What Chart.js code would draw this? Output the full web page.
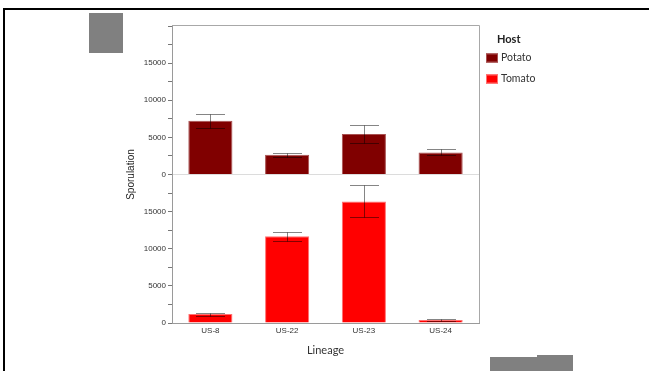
<!DOCTYPE html>
<html>
<head>
<meta charset="utf-8">
<title>Sporulation by lineage and host</title>
<script src="https://cdn.jsdelivr.net/npm/chart.js@4/dist/chart.umd.min.js"></script>
<style>
  html, body { margin: 0; padding: 0; background: #fff; }
  body { width: 649px; height: 371px; position: relative; overflow: hidden; }
  #chart { position: absolute; left: 0; top: 0; }
  .frame { position: absolute; left: 3px; top: 8px; right: 0; bottom: 0;
           border-top: 2px solid #000; border-left: 2px solid #000; }
  .patch { position: absolute; background: #808080; }
</style>
</head>
<body>
<div class="frame"></div>
<div class="patch" style="left:89px;top:13px;width:34px;height:40px"></div>
<div class="patch" style="left:490px;top:357px;width:83px;height:14px"></div>
<div class="patch" style="left:537px;top:355px;width:36px;height:2px"></div>
<canvas id="chart" width="649" height="371"></canvas>
<script>
// Lineages on the x axis
const lineages = ['US-8', 'US-22', 'US-23', 'US-24'];

// Mean sporulation per host
const potatoMeans = [7250, 2650, 5450, 2970];
const tomatoMeans = [1220, 11700, 16350, 400];

// Error bar bounds (lower / upper) per host
const potatoLow  = [6200, 2390, 4280, 2570];
const potatoHigh = [8200, 2880, 6660, 3470];
const tomatoLow  = [950, 11110, 14280, 250];
const tomatoHigh = [1410, 12290, 18520, 600];

// Value axis range and tick spacing (labels every 5000)
const axisMin = 0;
const axisMax = 20000;
const tickStep = 2500;
const labelStep = 5000;

const hostColors = { Potato: '#800000', Tomato: '#ff0000' };
const hostEdges  = { Potato: '#a85050', Tomato: '#ff7070' };

const tickFont = { family: "'Liberation Sans', Arial, sans-serif", size: 8 };
const textFont = "Lato, 'Open Sans', sans-serif";

function tickLabel(value) {
  return (value % labelStep === 0 && value < axisMax) ? value : '';
}

function valueAxis(showZeroLine) {
  return {
    type: 'linear',
    position: 'left',
    stack: 'host',
    stackWeight: 1,
    min: axisMin,
    max: axisMax,
    border: { color: '#9a9a9a' },
    grid: {
      drawOnChartArea: showZeroLine,
      color: c => (c.tick && c.tick.value === 0) ? '#dcdcdc' : 'rgba(0,0,0,0)',
      tickColor: '#777',
      tickLength: 4,
      drawTicks: true
    },
    ticks: {
      stepSize: tickStep,
      autoSkip: false,
      font: tickFont,
      color: '#333',
      padding: 2,
      callback: tickLabel
    },
    afterFit: s => { s.width = 172; }
  };
}

// Error bars drawn through each dataset's own value scale
const errorBars = {
  id: 'errorBars',
  afterDatasetsDraw(chart) {
    const ctx = chart.ctx;
    ctx.save();
    ctx.strokeStyle = 'rgba(0,0,0,0.48)';
    ctx.lineWidth = 1;
    chart.data.datasets.forEach((ds, i) => {
      const meta = chart.getDatasetMeta(i);
      const scale = chart.scales[ds.yAxisID];
      meta.data.forEach((bar, j) => {
        const x = Math.round(bar.x) + 0.5;
        const y1 = Math.round(scale.getPixelForValue(ds.errLow[j])) + 0.5;
        const y2 = Math.round(scale.getPixelForValue(ds.errHigh[j])) + 0.5;
        const half = 14.5;
        ctx.beginPath();
        ctx.moveTo(x, y1); ctx.lineTo(x, y2);
        ctx.moveTo(x - half, y1); ctx.lineTo(x + half, y1);
        ctx.moveTo(x - half, y2); ctx.lineTo(x + half, y2);
        ctx.stroke();
      });
    });
    ctx.restore();
  }
};

// Plot frame, shared y title and host legend
const decorations = {
  id: 'decorations',
  afterDraw(chart) {
    const { ctx, chartArea: a } = chart;
    ctx.save();
    ctx.strokeStyle = '#a8a8a8';
    ctx.lineWidth = 1;
    ctx.beginPath();
    ctx.moveTo(a.left, Math.round(a.top) - 0.5);
    ctx.lineTo(Math.round(a.right) + 0.5, Math.round(a.top) - 0.5);
    ctx.lineTo(Math.round(a.right) + 0.5, a.bottom);
    ctx.stroke();

    ctx.fillStyle = '#222';
    ctx.font = "10px 'Liberation Sans', Arial, sans-serif";
    ctx.textAlign = 'center';
    ctx.textBaseline = 'middle';
    ctx.translate(131, (a.top + a.bottom) / 2);
    ctx.rotate(-Math.PI / 2);
    ctx.fillText('Sporulation', 0, 0);
    ctx.restore();

    ctx.save();
    const lx = 486;
    ctx.fillStyle = '#222';
    ctx.font = 'bold 11px ' + textFont;
    ctx.textBaseline = 'middle';
    ctx.textAlign = 'left';
    ctx.fillText('Host', 497, 39);
    ctx.font = '10.5px ' + textFont;
    chart.data.datasets.forEach((ds, i) => {
      const cy = 58 + i * 21;
      ctx.fillStyle = ds.backgroundColor;
      ctx.fillRect(lx, cy - 4.5, 12, 9);
      ctx.strokeStyle = ds.borderColor;
      ctx.strokeRect(lx + 0.5, cy - 4, 11, 8);
      ctx.fillStyle = '#333';
      ctx.fillText(ds.label, 501, cy);
    });
    ctx.restore();
  }
};

new Chart(document.getElementById('chart'), {
  type: 'bar',
  data: {
    labels: lineages,
    datasets: [
      {
        label: 'Potato',
        data: potatoMeans,
        errLow: potatoLow,
        errHigh: potatoHigh,
        yAxisID: 'yPotato',
        backgroundColor: hostColors.Potato,
        borderColor: hostEdges.Potato,
        borderWidth: 1,
        grouped: false,
        barPercentage: 0.575,
        categoryPercentage: 1
      },
      {
        label: 'Tomato',
        data: tomatoMeans,
        errLow: tomatoLow,
        errHigh: tomatoHigh,
        yAxisID: 'yTomato',
        backgroundColor: hostColors.Tomato,
        borderColor: hostEdges.Tomato,
        borderWidth: 1,
        grouped: false,
        barPercentage: 0.575,
        categoryPercentage: 1
      }
    ]
  },
  options: {
    responsive: false,
    animation: false,
    devicePixelRatio: 1,
    layout: { padding: { top: 26, right: 170, bottom: 0, left: 0 } },
    plugins: { legend: { display: false }, tooltip: { enabled: false } },
    scales: {
      x: {
        type: 'category',
        border: { color: '#9a9a9a' },
        grid: { drawOnChartArea: false, drawTicks: false },
        ticks: { font: tickFont, color: '#333', padding: 3 },
        title: {
          display: true,
          text: 'Lineage',
          font: { family: textFont, size: 11 },
          color: '#333',
          padding: { top: 0, bottom: 14 }
        },
        afterFit: s => { s.height = 48; }
      },
      yTomato: valueAxis(false),
      yPotato: valueAxis(true)
    }
  },
  plugins: [errorBars, decorations]
});
</script>
</body>
</html>
